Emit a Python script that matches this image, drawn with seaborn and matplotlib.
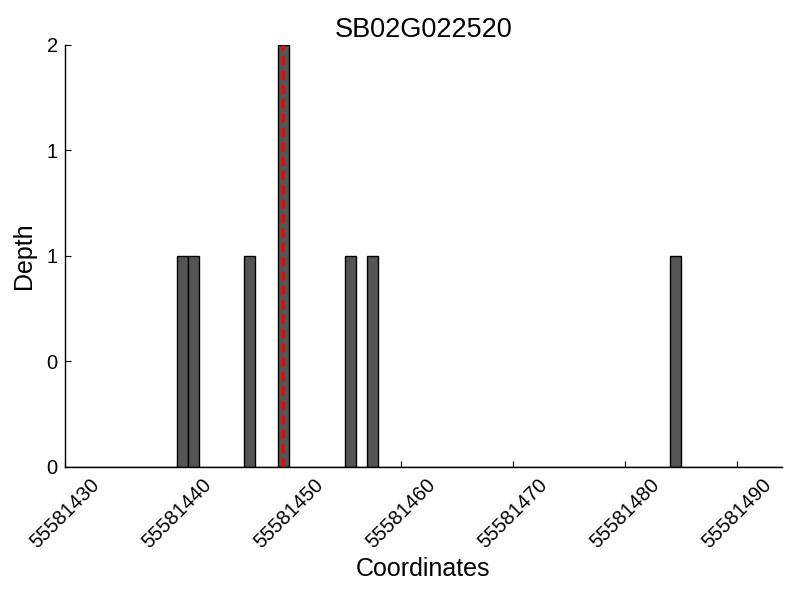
import matplotlib
matplotlib.use("Agg")
import matplotlib.pyplot as plt
import seaborn as sns
import numpy as np
import pandas as pd
from matplotlib.ticker import FormatStrFormatter

positions = [55581440, 55581441, 55581446, 55581449, 55581455, 55581457, 55581484]
depths = [1, 1, 1, 2, 1, 1, 1]
marker_pos = 55581449.5
x_ticks = [55581430, 55581440, 55581450, 55581460, 55581470, 55581480, 55581490]
y_ticks = [0, 0.5, 1, 1.5, 2]
title = "SB02G022520"

sns.set_style("ticks")
plt.rcParams['font.family'] = ['Liberation Sans', 'DejaVu Sans']
for k in ['text.color', 'axes.labelcolor', 'xtick.color', 'ytick.color', 'axes.edgecolor']:
    plt.rcParams[k] = 'black'
plt.rcParams['xtick.direction'] = 'in'
plt.rcParams['ytick.direction'] = 'in'

df = pd.DataFrame({"pos": positions, "depth": depths})

fig = plt.figure(figsize=(8, 6), dpi=100)
ax = fig.add_axes([0.081, 0.222, 0.896, 0.703])
sns.histplot(data=df, x="pos", weights="depth", binwidth=1,
             binrange=(55581430, 55581494), color="#555555", alpha=1,
             edgecolor="black", linewidth=1, ax=ax)
ax.plot([marker_pos, marker_pos], [0, max(depths)], color="red",
        linestyle=(0, (3, 1.7)), linewidth=2.2)

ax.set_xlim(55581430, 55581494)
ax.set_ylim(0, 2)
ax.set_xticks(x_ticks)
ax.set_xticklabels([str(t) for t in x_ticks], rotation=45, ha="center",
                   fontsize=14.5)
ax.set_yticks(y_ticks)
ax.yaxis.set_major_formatter(FormatStrFormatter('%d'))
ax.tick_params(axis='y', labelsize=14.5, length=4, width=0.8, pad=5)
ax.tick_params(axis='x', length=4, width=0.8, pad=6)
for s in ['left', 'bottom']:
    ax.spines[s].set_linewidth(1)
ax.set_xlabel("Coordinates", fontsize=18, labelpad=4)
ax.set_ylabel("Depth", fontsize=18, labelpad=8)
ax.set_title(title, fontsize=19.5, pad=6)
sns.despine(ax=ax)
fig.savefig("out.png", dpi=100)
